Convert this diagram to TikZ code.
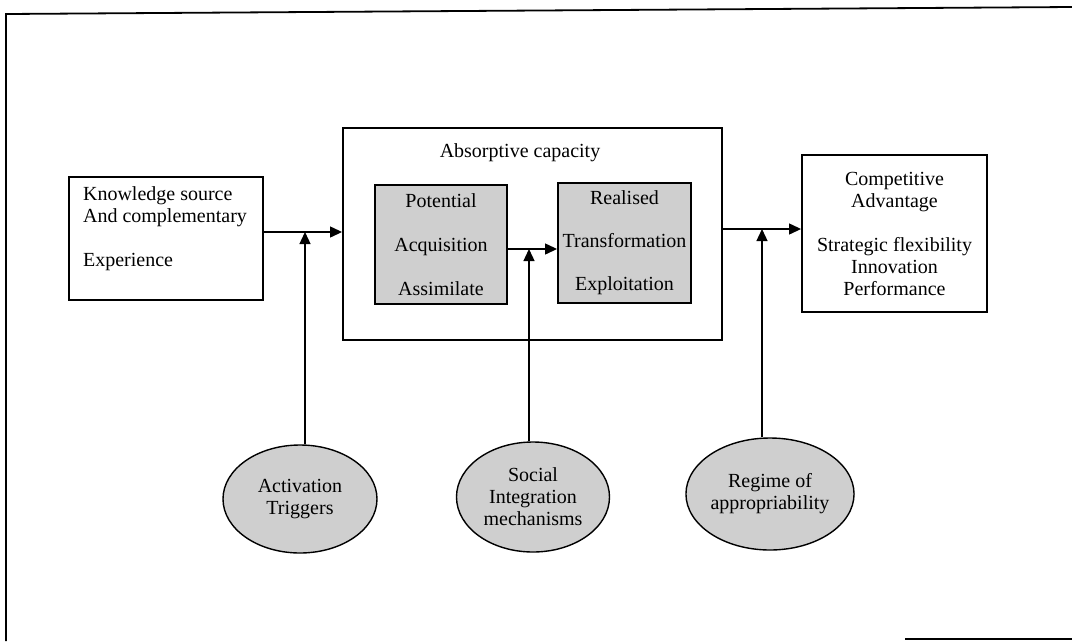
\documentclass[tikz,border=0pt]{standalone}
\usepackage{fontspec}
\setmainfont{Liberation Serif}
\usetikzlibrary{arrows.meta,shapes.geometric}
\tikzset{
  txt/.style={font=\fontsize{20}{22}\selectfont, inner sep=0pt},
  box/.style={draw, line width=1.9pt, rectangle, inner sep=0pt, txt, align=center},
  stage/.style={box, fill=black!19},
  factor/.style={draw, line width=1.4pt, ellipse, fill=black!19, inner sep=0pt, txt, align=center},
  flow/.style={line width=1.3pt, -{Triangle[length=12pt,width=11pt]}},
  frame/.style={line width=1.8pt}
}
\begin{document}
\begin{tikzpicture}[x=1pt,y=-1pt]
\useasboundingbox (0,0) rectangle (1072,641);

% page frame
\coordinate (fTL) at (6,14);
\coordinate (fTR) at (1072,7);
\coordinate (fBL) at (6,641);
\coordinate (fB1) at (905,639);
\coordinate (fB2) at (1072,639);
\draw[frame] (fBL) -- (fTL) -- (fTR);
\draw[frame] (fB1) -- (fB2);

% knowledge source
\node[box, minimum width=194pt, minimum height=123pt] (ks) at (166,238.5) {};
\node[txt, align=left] (ksT) at (165,228.5) {Knowledge source\\And complementary\\[22pt]Experience};

% absorptive capacity
\node[box, minimum width=379pt, minimum height=212pt] (abs) at (532.5,234) {};
\node[txt] (absT) at (520,153) {Absorptive capacity};
\node[stage, minimum width=132pt, minimum height=119pt] (pot) at (441,244.5)
  {Potential\\[22pt]Acquisition\\[22pt]Assimilate};
\node[stage, minimum width=133pt, minimum height=120pt] (real) at (624.5,243)
  {Realised\\[21pt]Transformation\\[21pt]Exploitation};

% outcomes
\node[box, minimum width=185pt, minimum height=157pt] (comp) at (894.5,233.5)
  {Competitive\\Advantage\\[22pt]Strategic flexibility\\Innovation\\Performance};

% moderating factors
\node[factor, minimum width=154pt, minimum height=108pt] (act) at (300,499)
  {Activation\\Triggers};
\node[factor, minimum width=153pt, minimum height=110pt] (soc) at (533,497)
  {Social\\Integration\\mechanisms};
\node[factor, minimum width=151pt, minimum height=112pt] (reg) at (770,494)
  {Regime of\\appropriability};

% junctions on the main flow
\coordinate (j1) at (305,232);
\coordinate (j2) at (529,249);
\coordinate (j3) at (762,229);

\draw[flow] (ks.east |- j1) -- (abs.west |- j1);
\draw[flow] (act.north -| j1) -- (j1);
\draw[flow] (pot.east |- j2) -- (real.west |- j2);
\draw[flow] (soc.north -| j2) -- (j2);
\draw[flow] (abs.east |- j3) -- (comp.west |- j3);
\draw[flow] (reg.north -| j3) -- (j3);
\end{tikzpicture}
\end{document}
